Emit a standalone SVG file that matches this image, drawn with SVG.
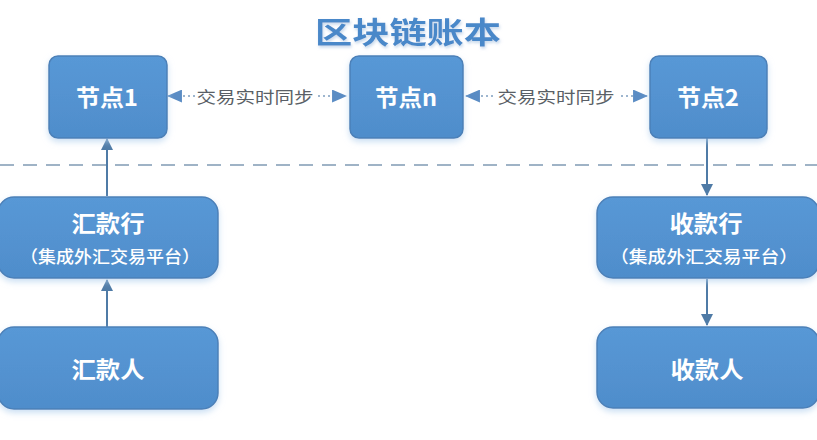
<svg xmlns="http://www.w3.org/2000/svg" width="817" height="440" viewBox="0 0 817 440">
<style>
.box{fill:url(#g);stroke:#4b80b8;stroke-width:1.5;filter:url(#sh)}
.t{font-family:"Noto Sans CJK SC","Noto Sans",sans-serif;font-weight:bold;fill:#ffffff;text-anchor:middle;dominant-baseline:central}
.big{font-size:23px}
.sub{font-size:17px;font-weight:500}
.lbl{font-family:"Noto Sans CJK SC","Noto Sans",sans-serif;font-size:16px;fill:#5a5f66;text-anchor:middle;dominant-baseline:central}
.solid{stroke:#4f7ba6;stroke-width:2;fill:none}
.dot{stroke:#7f9ec0;stroke-width:1.6;stroke-dasharray:2 3;fill:none}
</style>
<defs>
<linearGradient id="g" x1="0" y1="0" x2="0" y2="1">
<stop offset="0" stop-color="#5898d6"/>
<stop offset="1" stop-color="#4f8dcb"/>
</linearGradient>
<filter id="sh" x="-20%" y="-20%" width="140%" height="150%">
<feDropShadow dx="0" dy="3" stdDeviation="3" flood-color="#b3d0ee" flood-opacity="0.7"/>
</filter>
<filter id="tsh" x="-10%" y="-20%" width="120%" height="150%">
<feDropShadow dx="1" dy="2" stdDeviation="1.5" flood-color="#b9cfe6" flood-opacity="0.8"/>
</filter>
<marker id="ah" viewBox="0 0 12 12" refX="11" refY="6" markerWidth="12" markerHeight="12" markerUnits="userSpaceOnUse" orient="auto">
<path d="M0,0 L12,6 L0,12 Z" fill="#4f7ba6"/>
</marker>
<marker id="ahd" viewBox="0 0 14 12" refX="13" refY="6" markerWidth="15" markerHeight="13" markerUnits="userSpaceOnUse" orient="auto-start-reverse">
<path d="M0,0 L14,6 L0,12 Z" fill="#5a8cc4"/>
</marker>
</defs>
<rect width="817" height="440" fill="#ffffff"/>
<text x="408" y="30" font-family="'Noto Sans CJK SC','Noto Sans',sans-serif" font-weight="bold" font-size="30" fill="#4a88c9" text-anchor="middle" dominant-baseline="central" textLength="186" lengthAdjust="spacingAndGlyphs" filter="url(#tsh)">区块链账本</text>
<line x1="0" y1="165" x2="817" y2="165" stroke="#9fb3c6" stroke-width="2" stroke-dasharray="14 9"/>
<g id="connectors">
<line class="dot" x1="168" y1="96" x2="346" y2="96" marker-start="url(#ahd)" marker-end="url(#ahd)"/>
<rect x="195" y="85" width="122" height="22" fill="#ffffff"/>
<text class="lbl" x="255" y="96" textLength="117" lengthAdjust="spacingAndGlyphs">交易实时同步</text>
<line class="dot" x1="466" y1="96" x2="647" y2="96" marker-start="url(#ahd)" marker-end="url(#ahd)"/>
<rect x="496" y="85" width="122" height="22" fill="#ffffff"/>
<text class="lbl" x="556" y="96" textLength="117" lengthAdjust="spacingAndGlyphs">交易实时同步</text>
<line class="solid" x1="107" y1="196" x2="107" y2="139" marker-end="url(#ah)"/>
<line class="solid" x1="107" y1="327" x2="107" y2="280" marker-end="url(#ah)"/>
<line class="solid" x1="707" y1="138" x2="707" y2="195" marker-end="url(#ah)"/>
<line class="solid" x1="707" y1="279" x2="707" y2="325" marker-end="url(#ah)"/>
</g>
<g id="node1">
<rect class="box" x="49" y="56" width="118" height="82" rx="9"/>
<text class="t big" x="107" y="96" textLength="62" lengthAdjust="spacingAndGlyphs">节点1</text>
</g>
<g id="noden">
<rect class="box" x="350" y="56" width="113" height="82" rx="9"/>
<text class="t big" x="406" y="96" textLength="62" lengthAdjust="spacingAndGlyphs">节点n</text>
</g>
<g id="node2">
<rect class="box" x="650" y="56" width="117" height="82" rx="9"/>
<text class="t big" x="708" y="96" textLength="62" lengthAdjust="spacingAndGlyphs">节点2</text>
</g>
<g id="remitBank">
<rect class="box" x="-2" y="197" width="220" height="81" rx="16"/>
<text class="t big" x="108" y="222" textLength="73" lengthAdjust="spacingAndGlyphs">汇款行</text>
<text class="t sub" x="110" y="255" textLength="180" lengthAdjust="spacingAndGlyphs">（集成外汇交易平台）</text>
</g>
<g id="remitter">
<rect class="box" x="-2" y="327" width="220" height="82" rx="16"/>
<text class="t big" x="108" y="368" textLength="73" lengthAdjust="spacingAndGlyphs">汇款人</text>
</g>
<g id="payeeBank">
<rect class="box" x="597" y="197" width="222" height="81" rx="16"/>
<text class="t big" x="706" y="222" textLength="73" lengthAdjust="spacingAndGlyphs">收款行</text>
<text class="t sub" x="704" y="255" textLength="188" lengthAdjust="spacingAndGlyphs">（集成外汇交易平台）</text>
</g>
<g id="payee">
<rect class="box" x="597" y="327" width="222" height="81" rx="16"/>
<text class="t big" x="707" y="368" textLength="73" lengthAdjust="spacingAndGlyphs">收款人</text>
</g>
</svg>
